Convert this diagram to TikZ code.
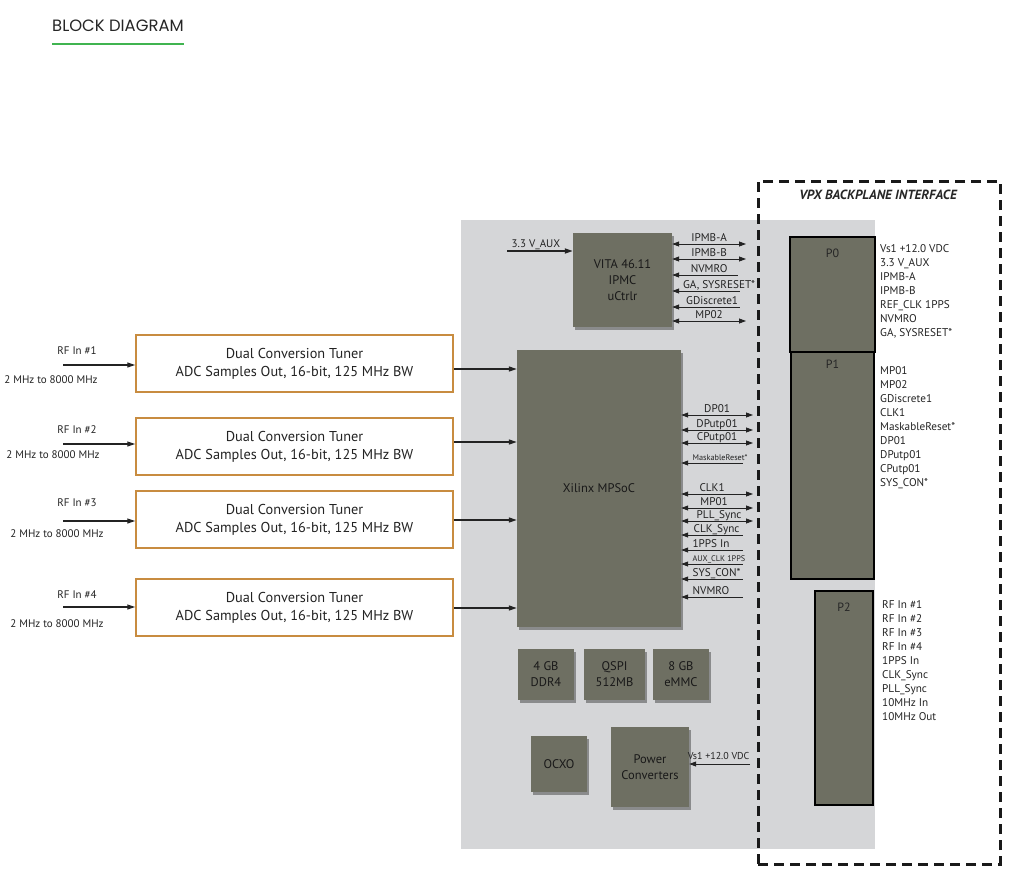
\documentclass[tikz,border=0pt]{standalone}
\usepackage{fontspec}
\setmainfont{PT Sans}
\newfontfamily\titlefont{Poppins}
\usetikzlibrary{arrows.meta,shadows}
\definecolor{blk}{RGB}{110,111,98}
\definecolor{bgg}{RGB}{213,214,216}
\definecolor{tun}{RGB}{200,140,64}
\definecolor{grn}{RGB}{64,180,80}
\definecolor{txt}{RGB}{35,35,35}
\begin{document}
\begin{tikzpicture}[x=1pt,y=-1pt,
  chip/.style={fill=blk, align=center, inner sep=0pt, font=\fontsize{12.5}{16}\selectfont, text=black!90,
    drop shadow={opacity=0.35, shadow xshift=2pt, shadow yshift=-3pt, fill=black}},
  conn/.style={draw=black, line width=2pt, fill=blk, inner sep=0pt},
  plab/.style={font=\fontsize{12}{13}\selectfont, text=black!85, anchor=north, yshift=-9pt},
  tuner/.style={draw=tun, line width=1.5pt, fill=white, align=center, inner sep=0pt,
    minimum width=317pt, minimum height=57pt, font=\fontsize{14.3}{18}\selectfont, text=txt},
  sig/.style={draw=txt, line width=0.8pt},
  dbl/.style={sig, {Triangle[length=7pt,width=5pt]}-{Triangle[length=7pt,width=5pt]}},
  lft/.style={sig, {Triangle[length=7pt,width=5pt]}-},
  arr/.style={draw=txt, line width=1.2pt, -{Triangle[length=8pt,width=5pt]}},
  lab/.style={font=\fontsize{11.2}{12}\selectfont, text=txt, inner sep=0pt, anchor=base, yshift=3pt},
  labs/.style={lab, font=\fontsize{8.2}{9}\selectfont},
  plist/.style={font=\fontsize{11.2}{14}\selectfont, text=txt, align=left, inner sep=0pt, anchor=north west},
  small/.style={font=\fontsize{11}{12}\selectfont, text=txt, inner sep=0pt},
]
\useasboundingbox (0,0) rectangle (1010,881);

% title
\node[font=\titlefont\fontsize{16.4}{18}\selectfont, text=black!85, anchor=west, inner sep=0pt] (title) at (52,26) {BLOCK DIAGRAM};
\coordinate (ul) at (0,44);
\draw[grn, line width=2pt] (title.west |- ul) -- (title.east |- ul);

% board background
\node[fill=bgg, minimum width=414pt, minimum height=629pt, inner sep=0pt] (board) at (668,534.5) {};

% VPX backplane dashed box
\node[draw=black!90, line width=3pt, dash pattern=on 10pt off 6pt, minimum width=242pt, minimum height=683pt, inner sep=0pt] (vpx) at (879,522.5) {};
\node[font=\bfseries\itshape\fontsize{13.3}{15}\selectfont, text=black!85, inner sep=0pt] (vpxt) at (878,195) {VPX BACKPLANE INTERFACE};

% connectors P0 P1 P2
\node[conn, minimum width=85pt, minimum height=115pt, label={[plab]north:P0}] (p0) at (832.5,294.5) {};
\node[conn, minimum width=83pt, minimum height=227pt, label={[plab,yshift=4pt]north:P1}] (p1) at (832.5,465.5) {};
\node[conn, minimum width=58pt, minimum height=214pt, label={[plab]north:P2}] (p2) at (844,698) {};

\node[plist] (p0l) at (880,244) {Vs1 +12.0 VDC\\3.3 V\_AUX\\IPMB-A\\IPMB-B\\REF\_CLK 1PPS\\NVMRO\\GA, SYSRESET*};
\node[plist] (p1l) at (880,366) {MP01\\MP02\\GDiscrete1\\CLK1\\MaskableReset*\\DP01\\DPutp01\\CPutp01\\SYS\_CON*};
\node[plist] (p2l) at (882,600) {RF In \#1\\RF In \#2\\RF In \#3\\RF In \#4\\1PPS In\\CLK\_Sync\\PLL\_Sync\\10MHz In\\10MHz Out};

% chips
\node[chip, minimum width=99pt, minimum height=94pt] (vita) at (622.5,280) {VITA 46.11\\IPMC\\uCtrlr};
\node[chip, minimum width=164pt, minimum height=277pt] (mpsoc) at (599,488.5) {Xilinx MPSoC};
\node[chip, minimum width=56pt, minimum height=51pt] (ddr) at (546,674.5) {4 GB\\DDR4};
\node[chip, minimum width=61pt, minimum height=51pt] (qspi) at (614.5,674.5) {QSPI\\512MB};
\node[chip, minimum width=56pt, minimum height=51pt] (emmc) at (681,674.5) {8 GB\\eMMC};
\node[chip, minimum width=56pt, minimum height=56pt] (ocxo) at (559,764) {OCXO};
\node[chip, minimum width=78pt, minimum height=80pt] (pwr) at (650,767) {Power\\Converters};

% VITA inputs
\coordinate (aux) at (507,251);
\draw[arr, line width=1.6pt] (aux) -- (vita.west |- aux) node[small, pos=0.44, anchor=base, yshift=4pt] {3.3 V\_AUX};

% VITA signals
\coordinate (v1) at (746,244);
\coordinate (v2) at (746,259);
\coordinate (v3) at (738,275);
\coordinate (v4) at (740,291);
\coordinate (v5) at (740,307);
\coordinate (v6) at (746,321);
\draw[dbl] (vita.east |- v1) -- (v1) node[lab, midway] {IPMB-A};
\draw[dbl] (vita.east |- v2) -- (v2) node[lab, midway] {IPMB-B};
\draw[lft] (vita.east |- v3) -- (v3) node[lab, midway, xshift=4pt] {NVMRO};
\draw[lft] (vita.east |- v4) -- (v4) node[lab, midway, xshift=13pt] {GA, SYSRESET*};
\draw[lft] (vita.east |- v5) -- (v5) node[lab, midway, xshift=6pt] {GDiscrete1};
\draw[dbl] (vita.east |- v6) -- (v6) node[lab, midway] {MP02};

% MPSoC signals
\coordinate (m1) at (753,415);
\coordinate (m2) at (753,430);
\coordinate (m3) at (753,443);
\coordinate (m4) at (743,463);
\coordinate (m5) at (753,494);
\coordinate (m6) at (753,508);
\coordinate (m7) at (753,521);
\coordinate (m8) at (743,535);
\coordinate (m9) at (743,550);
\coordinate (m10) at (743,564);
\coordinate (m11) at (743,579);
\coordinate (m12) at (743,597);
\draw[dbl] (mpsoc.east |- m1) -- (m1) node[lab, midway] {DP01};
\draw[dbl] (mpsoc.east |- m2) -- (m2) node[lab, midway] {DPutp01};
\draw[dbl] (mpsoc.east |- m3) -- (m3) node[lab, midway] {CPutp01};
\draw[lft] (mpsoc.east |- m4) -- (m4) node[labs, pos=0, anchor=base west, xshift=11pt] {MaskableReset*};
\draw[dbl] (mpsoc.east |- m5) -- (m5) node[lab, midway, xshift=-5pt] {CLK1};
\draw[dbl] (mpsoc.east |- m6) -- (m6) node[lab, midway, xshift=-3pt] {MP01};
\draw[dbl] (mpsoc.east |- m7) -- (m7) node[lab, midway, xshift=2pt] {PLL\_Sync};
\draw[lft] (mpsoc.east |- m8) -- (m8) node[lab, pos=0, anchor=base west, xshift=12pt] {CLK\_Sync};
\draw[lft] (mpsoc.east |- m9) -- (m9) node[lab, pos=0, anchor=base west, xshift=11pt] {1PPS In};
\draw[lft] (mpsoc.east |- m10) -- (m10) node[labs, pos=0, anchor=base west, xshift=11pt] {AUX\_CLK 1PPS};
\draw[lft] (mpsoc.east |- m11) -- (m11) node[lab, pos=0, anchor=base west, xshift=11pt] {SYS\_CON*};
\draw[lft] (mpsoc.east |- m12) -- (m12) node[lab, pos=0, anchor=base west, xshift=11pt] {NVMRO};

% power input
\coordinate (vs) at (750,764);
\draw[sig, -{Triangle[length=7pt,width=5pt]}] (vs) -- (pwr.east |- vs) node[lab, font=\fontsize{10}{11}\selectfont, midway, xshift=-1pt, yshift=2pt] {Vs1 +12.0 VDC};

% tuners
\foreach \i/\cy/\ry/\ly/\fy/\fx/\oy in {1/363.5/365/351/380/51/369, 2/446.5/444/430/455/53/442, 3/519.5/521/503/534/57/520, 4/607.5/607/595/624/57/608} {
  \node[tuner] (t\i) at (294.5,\cy) {Dual Conversion Tuner\\ADC Samples Out, 16-bit, 125 MHz BW};
  \coordinate (rf\i) at (63,\ry);
  \draw[arr] (rf\i) -- (t\i.west |- rf\i);
  \node[small] (rfl\i) at (77,\ly) {RF In \#\i};
  \node[small, font=\fontsize{11}{12}\selectfont] (fr\i) at (\fx,\fy) {2 MHz to 8000 MHz};
  \coordinate (o\i) at (0,\oy);
  \draw[arr] (t\i.east |- o\i) -- (mpsoc.west |- o\i);
}
\end{tikzpicture}
\end{document}
